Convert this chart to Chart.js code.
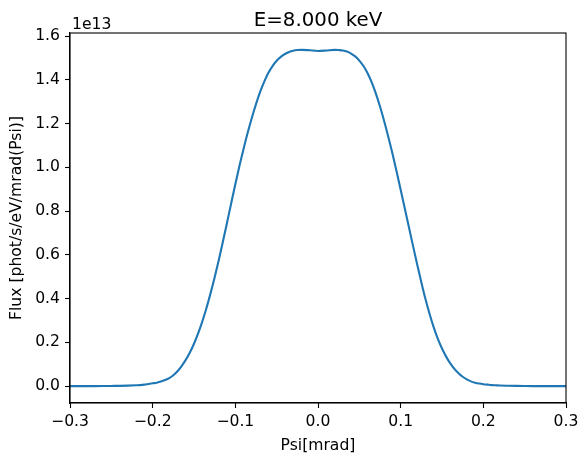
<!DOCTYPE html>
<html>
<head>
<meta charset="utf-8">
<script src="https://cdn.jsdelivr.net/npm/chart.js@4"></script>
<style>
  html, body { margin: 0; padding: 0; background: #fff; }
  #wrap { width: 588px; height: 464px; }
</style>
</head>
<body>
<div id="wrap"><canvas id="c" width="588" height="464"></canvas></div>
<script>
// Psi [mrad]
const psi = [
  -0.30, -0.29, -0.28, -0.27, -0.26, -0.25, -0.24, -0.23,
  -0.220, -0.215, -0.210, -0.205, -0.200, -0.195, -0.190, -0.185, -0.180, -0.175,
  -0.170, -0.165, -0.160, -0.155, -0.150, -0.145, -0.140, -0.135, -0.130, -0.125,
  -0.120, -0.115, -0.110, -0.105, -0.100, -0.095, -0.090, -0.085, -0.080, -0.075,
  -0.070, -0.065, -0.060, -0.055, -0.050, -0.045, -0.040, -0.035, -0.030, -0.025,
  -0.020, -0.010, 0.000, 0.010, 0.020,
   0.025, 0.030, 0.035, 0.040, 0.045, 0.050, 0.055, 0.060, 0.065, 0.070,
   0.075, 0.080, 0.085, 0.090, 0.095, 0.100, 0.105, 0.110, 0.115, 0.120,
   0.125, 0.130, 0.135, 0.140, 0.145, 0.150, 0.155, 0.160, 0.165, 0.170,
   0.175, 0.180, 0.185, 0.190, 0.195, 0.200, 0.205, 0.210, 0.215, 0.220,
   0.23, 0.24, 0.25, 0.26, 0.27, 0.28, 0.29, 0.30
];
// Flux in units of 1e13 phot/s/eV/mrad(Psi)
const flux = [
  0.000, 0.000, 0.000, 0.0002, 0.0005, 0.001, 0.0015, 0.0025,
  0.004, 0.005, 0.007, 0.010, 0.013, 0.016, 0.021, 0.028, 0.037, 0.050,
  0.068, 0.092, 0.120, 0.154, 0.194, 0.241, 0.295, 0.356, 0.424, 0.498,
  0.577, 0.661, 0.748, 0.836, 0.923, 1.007, 1.085, 1.159, 1.227, 1.289,
  1.345, 1.392, 1.432, 1.463, 1.487, 1.505, 1.518, 1.527, 1.533, 1.536,
  1.537, 1.535, 1.532, 1.534, 1.537,
  1.536, 1.534, 1.529, 1.520, 1.507, 1.488, 1.463, 1.430, 1.388, 1.337,
  1.278, 1.212, 1.140, 1.064, 0.982, 0.898, 0.812, 0.726, 0.640, 0.556,
  0.475, 0.398, 0.330, 0.269, 0.216, 0.172, 0.135, 0.104, 0.079, 0.059,
  0.043, 0.031, 0.022, 0.016, 0.012, 0.009, 0.007, 0.005, 0.004, 0.003,
  0.002, 0.0013, 0.0008, 0.0004, 0.0002, 0.000, 0.000, 0.000
];
const xTicks = [-0.3, -0.2, -0.1, 0.0, 0.1, 0.2, 0.3];
const yTicks = [0.0, 0.2, 0.4, 0.6, 0.8, 1.0, 1.2, 1.4, 1.6];
const titleText = 'E=8.000 keV';
const xLabel = 'Psi[mrad]';
const yLabel = 'Flux [phot/s/eV/mrad(Psi)]';
const offsetText = '1e13';

const FONT = 'DejaVu Sans';
const TICK_SIZE = 15.6;
const TITLE_SIZE = 19.8;
const fmt = v => {
  const s = Math.abs(v).toFixed(1);
  return (v < -1e-9 ? '\u2212' : '') + s;
};

const textPlugin = {
  id: 'textPlugin',
  afterDraw(chart) {
    const ctx = chart.ctx;
    const a = chart.chartArea;
    ctx.save();
    // frame
    ctx.strokeStyle = '#000';
    ctx.lineWidth = 1.1;
    ctx.strokeRect(a.left, a.top, a.right - a.left, a.bottom - a.top);
    ctx.fillStyle = '#000';
    // title
    ctx.font = TITLE_SIZE + 'px "' + FONT + '"';
    ctx.textAlign = 'center';
    ctx.textBaseline = 'alphabetic';
    ctx.fillText(titleText, (a.left + a.right) / 2, 26);
    // offset text
    ctx.font = TICK_SIZE + 'px "' + FONT + '"';
    ctx.textAlign = 'left';
    ctx.fillText(offsetText, a.left + 2, 29);
    // x label
    ctx.textAlign = 'center';
    ctx.fillText(xLabel, (a.left + a.right) / 2, 450);
    // y label
    ctx.translate(21, (a.top + a.bottom) / 2);
    ctx.rotate(-Math.PI / 2);
    ctx.fillText(yLabel, 0, 0);
    ctx.restore();
  }
};

new Chart(document.getElementById('c'), {
  type: 'line',
  data: {
    datasets: [{
      data: psi.map((x, i) => ({ x: x, y: flux[i] })),
      borderColor: '#1f77b4',
      borderWidth: 2.1,
      pointRadius: 0,
      fill: false,
      cubicInterpolationMode: 'monotone'
    }]
  },
  options: {
    responsive: false,
    animation: false,
    devicePixelRatio: 1,
    layout: { padding: { top: 33, right: 22, left: 0, bottom: 0 } },
    plugins: { legend: { display: false }, tooltip: { enabled: false }, title: { display: false } },
    scales: {
      x: {
        type: 'linear',
        min: -0.3,
        max: 0.3,
        afterFit(s) { s.height = 61; },
        afterBuildTicks(s) { s.ticks = xTicks.map(v => ({ value: v })); },
        grid: { display: true, drawOnChartArea: false, drawTicks: true, tickLength: 5, tickColor: '#000', tickWidth: 1.1 },
        border: { display: true, color: '#000', width: 1.1 },
        ticks: {
          color: '#000',
          font: { family: FONT, size: TICK_SIZE },
          padding: 5,
          maxRotation: 0,
          autoSkip: false,
          callback: v => fmt(v)
        }
      },
      y: {
        type: 'linear',
        min: -0.0769,
        max: 1.614,
        afterFit(s) { s.width = 70; },
        afterBuildTicks(s) { s.ticks = yTicks.map(v => ({ value: v })); },
        grid: { display: true, drawOnChartArea: false, drawTicks: true, tickLength: 5, tickColor: '#000', tickWidth: 1.1 },
        border: { display: true, color: '#000', width: 1.1 },
        ticks: {
          color: '#000',
          font: { family: FONT, size: TICK_SIZE },
          padding: 5,
          autoSkip: false,
          callback: v => fmt(v)
        }
      }
    }
  },
  plugins: [textPlugin]
});
</script>
</body>
</html>
